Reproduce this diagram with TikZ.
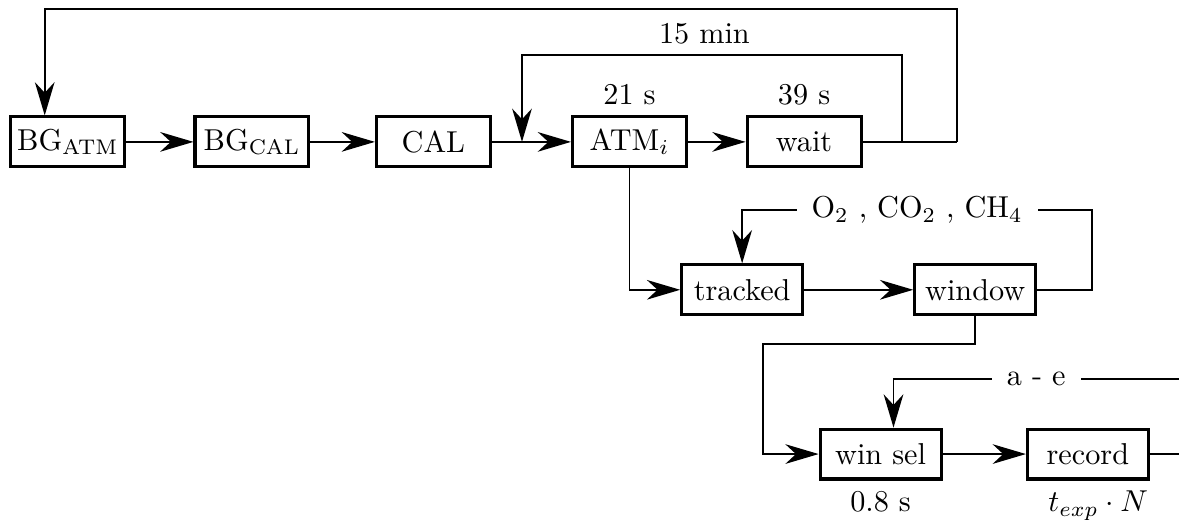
\documentclass[tikz,border=0pt]{standalone}
\usepackage{amsmath}
\usepackage{tikz}
\usetikzlibrary{positioning, arrows.meta}

\tikzset{
  block/.style={draw=black, line width=1pt, minimum width=37.7pt, minimum height=16.5pt, inner xsep=1pt},
  wblock/.style={block, minimum width=40pt},
  conn/.style={line width=0.65pt, black},
  arr/.style={conn, -{Stealth[length=11pt, width=6.5pt, inset=3.5pt]}},
  tag/.style={fill=white, inner xsep=5pt}
}

\begin{document}
\begin{tikzpicture}
  \useasboundingbox (0,0) rectangle (13.71,-6.04);

  % first row
  \node[block] (bgatm) at (0.79,-1.65) {BG$_{\mathrm{ATM}}$};
  \node[block] (bgcal) at (2.93,-1.65) {BG$_{\mathrm{CAL}}$};
  \node[block] (cal)   at (5.04,-1.65) {CAL};
  \node[block] (atm)   at (7.32,-1.65) {ATM$_i$};
  \node[block] (wait)  at (9.35,-1.65) {wait};
  \node[above=0pt of atm]  (tatm)  {21 s};
  \node[above=0pt of wait] (twait) {39 s};

  \coordinate (jn)    at (6.07,-1.65);
  \coordinate (inR)   at (10.49,-1.65);
  \coordinate (inTL)  at (6.07,-0.64);
  \coordinate (outR)  at (11.13,-1.65);
  \coordinate (outTL) at (0.52,-0.105);

  \draw[arr] (bgatm) -- (bgcal);
  \draw[arr] (bgcal) -- (cal);
  \draw[arr] (cal) -- (atm);
  \draw[arr] (atm) -- (wait);
  \draw[conn] (wait) -- (outR);
  \draw[arr] (inR) |- node[above, pos=0.76] (tmin) {15 min} (inTL) -- (jn);
  \draw[arr] (outR) |- (outTL) -- (outTL |- bgatm.north);

  % second row
  \node[wblock] (tracked) at (8.63,-3.37) {tracked};
  \node[wblock] (window)  at (11.34,-3.37) {window};
  \coordinate (gasR) at (12.70,-2.44);

  \draw[arr] (atm) |- (tracked);
  \draw[arr] (tracked) -- (window);
  \draw[arr] (window) -| (gasR) -- node[tag] (gas) {O$_2$ , CO$_2$ , CH$_4$} (gasR -| tracked) -- (tracked);

  % third row
  \node[wblock] (winsel) at (10.24,-5.28) {win sel};
  \node[wblock] (record) at (12.65,-5.28) {record};
  \node[below=0pt of winsel] (tsel) {0.8 s};
  \node[below=0pt of record, xshift=0.12cm] (trec) {$t_{exp} \cdot N$};
  \coordinate (wbend) at (8.87,-4.00);
  \coordinate (aeR)   at (13.71,-4.41);
  \coordinate (aeL)   at (10.39,-4.41);
  \coordinate (recR)  at (13.71,-5.28);

  \draw[arr] (window) -- (window |- wbend) -- (wbend) |- (winsel);
  \draw[arr] (winsel) -- (record);
  \draw[conn] (record) -- (recR);
  \draw[arr] (aeR) -- node[tag] (ae) {a - e} (aeL) -- (aeL |- winsel.north);

\end{tikzpicture}
\end{document}
